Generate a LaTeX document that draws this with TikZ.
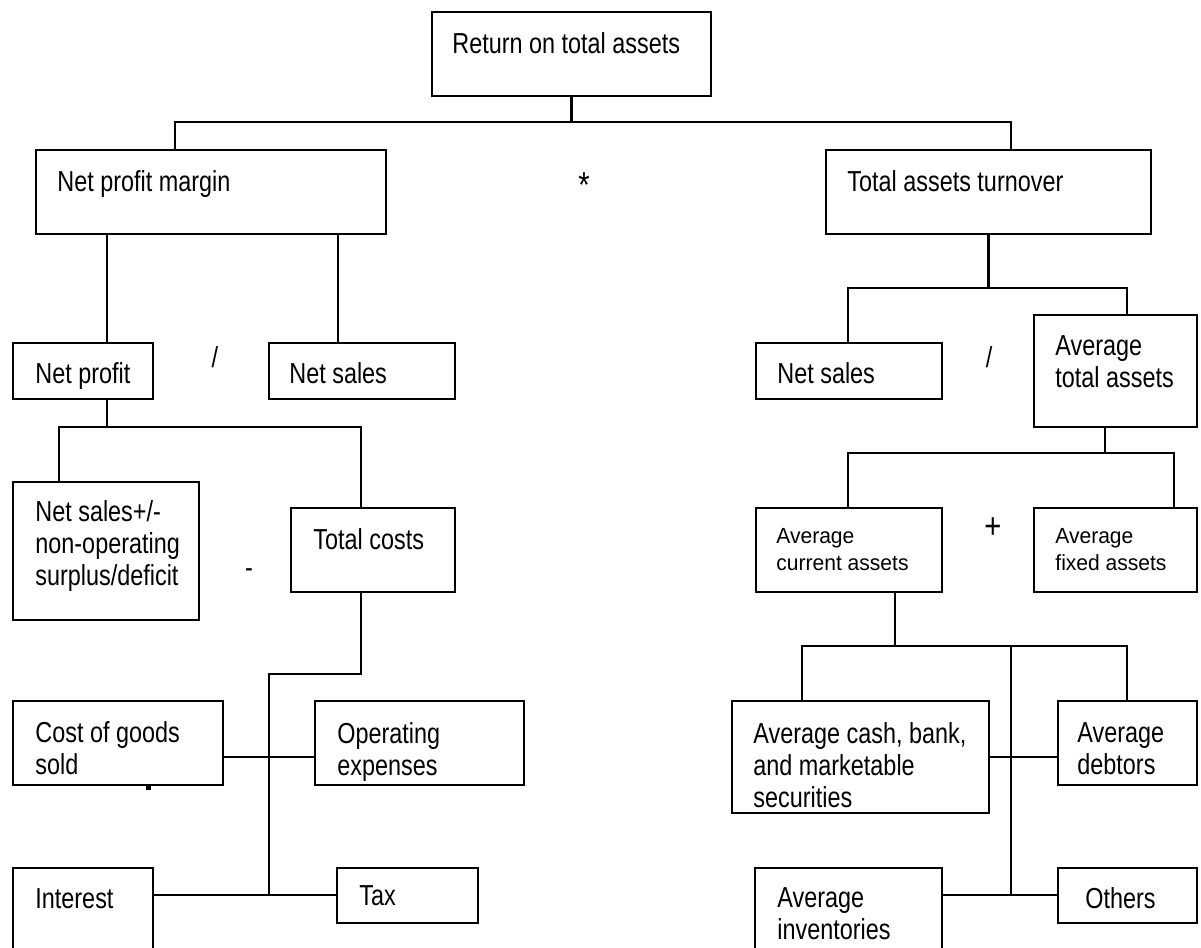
\documentclass[tikz,border=0pt]{standalone}
\usepackage{fontspec}
\setmainfont[FakeStretch=0.81]{Liberation Sans}
\newfontfamily\smallfam[FakeStretch=0.96]{Liberation Sans}
\newcommand\mkbox[5]{\node[box, minimum width={(#4-#2)*0.5pt}, minimum height={(#5-#3)*0.5pt}] (#1) at ({(#2+#4)/2},{(#3+#5)/2}) {};}
\tikzset{
 box/.style={draw, line width=1.2pt, inner sep=0pt, rectangle},
 txt/.style={anchor=north west, inner sep=0pt, align=left, font=\fontsize{14.45pt}{16pt}\selectfont},
 stxt/.style={anchor=north west, inner sep=0pt, align=left, font=\smallfam\fontsize{10.96pt}{13.5pt}\selectfont},
 opsym/.style={inner sep=0pt, font=\fontsize{18pt}{20pt}\selectfont},
 link/.style={line width=1.2pt},
}
\begin{document}
\begin{tikzpicture}[x=0.5pt,y=-0.5pt]
\path[use as bounding box] (0,0) rectangle (1201,948);
\clip (0,0) rectangle (1201,948);
% boxes
\mkbox{top}{432}{12}{711}{96}
\mkbox{npm}{36}{150}{386}{234}
\mkbox{tat}{826}{150}{1151}{234}
\mkbox{np}{13}{343}{153}{399}
\mkbox{nsl}{269}{343}{455}{399}
\mkbox{nsr}{756}{343}{942}{399}
\mkbox{ata}{1034}{315}{1197}{427}
\mkbox{nspm}{13}{482}{199}{620}
\mkbox{tc}{291}{508}{455}{592}
\mkbox{aca}{756}{508}{942}{592}
\mkbox{afa}{1034}{508}{1197}{592}
\mkbox{cogs}{13}{701}{223}{785}
\mkbox{opex}{315}{701}{524}{785}
\mkbox{cash}{732}{701}{989}{813}
\mkbox{deb}{1058}{701}{1197}{785}
\mkbox{int}{13}{868}{153}{962}
\mkbox{tax}{337}{868}{478}{923}
\mkbox{inv}{755}{868}{942}{962}
\mkbox{others}{1058}{868}{1197}{923}
% texts
\node[txt] (ttop) at (452,32) {Return on total assets};
\node[txt] (tnpm) at (57,170) {Net profit margin};
\node[txt] (ttat) at (847,170) {Total assets turnover};
\node[txt] (tnp) at (35,362) {Net profit};
\node[txt] (tnsl) at (289,362) {Net sales};
\node[txt] (tnsr) at (777,362) {Net sales};
\node[txt] (tata) at (1055,335) {Average\\total assets};
\node[txt] (tnspm) at (35,500) {Net sales+/-\\non-operating\\surplus/deficit};
\node[txt] (ttc) at (313,528) {Total costs};
\node[stxt] (taca) at (776,528) {Average\\current assets};
\node[stxt] (tafa) at (1055,528) {Average\\fixed assets};
\node[txt] (tcogs) at (35,721) {Cost of goods\\sold};
\node[txt] (topex) at (337,722) {Operating\\expenses};
\node[txt] (tint) at (35,888) {Interest};
\node[txt] (ttax) at (359,885) {Tax};
\node[txt] (tcash) at (753,722) {Average cash, bank,\\and marketable\\securities};
\node[txt] (tdeb) at (1077,722) {Average\\debtors};
\node[txt] (tinv) at (777,887) {Average\\inventories};
\node[txt] (toth) at (1085,887) {Others};
% operators
\node[opsym] (s1) at (584,185) {*};
\node[txt, anchor=center] (s2) at (215,357) {/};
\node[txt, anchor=center] (s3) at (989,357) {/};
\node[txt, anchor=center] (s4) at (249,573) {-};
\node[opsym, anchor=center] (s5) at (993,528) {+};
\fill (146,785) rectangle (151,790);
% connectors
\coordinate (a1) at (175,122); \coordinate (a2) at (1011,122);
\draw[link] (top.south) -- (top.south |- a1);
\draw[link] (npm.north -| a1) -- (a1) -- (a2) -- (tat.north -| a2);
\coordinate (b1) at (107,0); \coordinate (b2) at (338,0);
\draw[link] (npm.south -| b1) -- (np.north -| b1);
\draw[link] (npm.south -| b2) -- (nsl.north -| b2);
\coordinate (c1) at (848,288); \coordinate (c2) at (1127,288);
\draw[link] (tat.south) -- (tat.south |- c1);
\draw[link] (nsr.north -| c1) -- (c1) -- (c2) -- (ata.north -| c2);
\coordinate (d1) at (59,427); \coordinate (d2) at (361,427);
\draw[link] (np.south -| b1) -- (d1 -| b1);
\draw[link] (nspm.north -| d1) -- (d1) -- (d2) -- (tc.north -| d2);
\coordinate (e1) at (269,674); \coordinate (e2) at (269,895); \coordinate (e3) at (0,757);
\draw[link] (tc.south -| d2) -- (d2 |- e1) -- (e1) -- (e2);
\draw[link] (cogs.east |- e3) -- (opex.west |- e3);
\draw[link] (int.east |- e2) -- (tax.west |- e2);
\coordinate (f0) at (1105,0); \coordinate (f1) at (848,453); \coordinate (f2) at (1174,453);
\draw[link] (ata.south -| f0) -- (f1 -| f0);
\draw[link] (aca.north -| f1) -- (f1) -- (f2) -- (afa.north -| f2);
\coordinate (g0) at (895,0); \coordinate (g1) at (802,646); \coordinate (g2) at (1127,646);
\coordinate (g3) at (1011,646); \coordinate (g4) at (1011,895);
\draw[link] (aca.south -| g0) -- (g1 -| g0);
\draw[link] (cash.north -| g1) -- (g1) -- (g2) -- (deb.north -| g2);
\draw[link] (g3) -- (g4);
\draw[link] (cash.east |- e3) -- (deb.west |- e3);
\draw[link] (inv.east |- g4) -- (others.west |- g4);
\end{tikzpicture}
\end{document}
